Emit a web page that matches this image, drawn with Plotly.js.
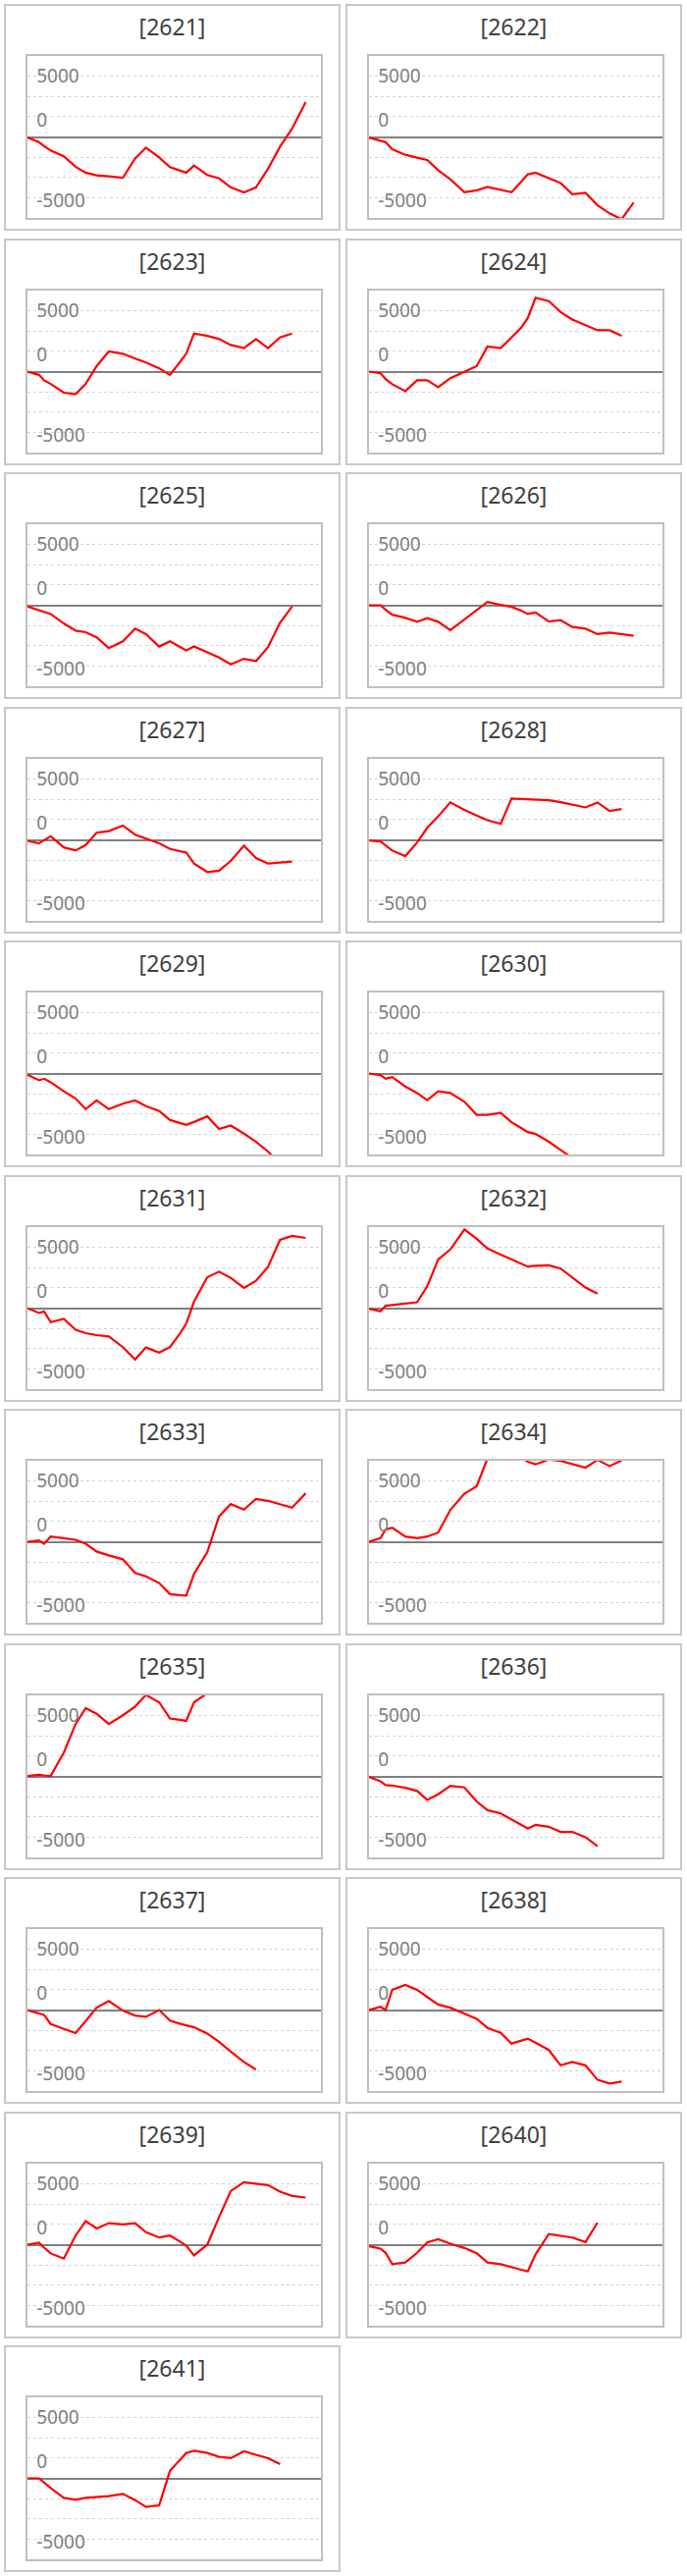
<!DOCTYPE html>
<html>
<head>
<meta charset="utf-8">
<script src="https://cdn.plot.ly/plotly-3.0.1.min.js"></script>
<style>
    body { margin: 0; background: #fff; }
    .panel {
        position: absolute;
        width: 343px;
        height: 231px;
        box-sizing: border-box;
        border: 2px solid #c8c8c8;
        background: #fff;
    }
</style>
</head>
<body>
<div id="charts"></div>
<script>
// Position of each data point along the x axis (shared by all panels)
const xDays = [0, 0.95, 1.38, 1.93, 3.02, 4.0, 4.84, 5.75, 6.76, 7.93, 8.95, 9.85, 10.95,
               11.85, 12.65, 13.2, 13.85, 14.95, 15.93, 16.9, 18.0, 19.0, 20.0, 21.0, 22.0, 23.13];

const codes = ['2621', '2622', '2623', '2624', '2625', '2626', '2627', '2628', '2629', '2630', '2631',
               '2632', '2633', '2634', '2635', '2636', '2637', '2638', '2639', '2640', '2641'];

const v2621 = [-50, -430, -750, -1120, -1600, -2460, -2940, -3160, -3240, -3370, -1770, -880, -1690,
               -2490, -2760, -2940, -2350, -3130, -3420, -4150, -4570, -4150, -2620, -800, 670, 2860];
const v2622 = [-50, -270, -430, -1020, -1470, -1710, -1900, -2730, -3480, -4550, -4390, -4120, -4330,
               -4550, -3690, -3080, -2940, -3370, -3800, -4710, -4600, -5620, -6290, -6770, -5400];
const v2623 = [0, -270, -720, -1020, -1740, -1870, -1020, 450, 1660, 1470, 1070, 750, 270,
               -270, 750, 1470, 3130, 2940, 2680, 2190, 1930, 2680, 1930, 2810, 3130];
const v2624 = [0, -130, -620, -1040, -1610, -720, -720, -1280, -540, 0, 450, 2060, 1930,
               2810, 3610, 4410, 6070, 5800, 4900, 4280, 3830, 3400, 3400, 2940];
const v2625 = [-110, -430, -560, -720, -1500, -2090, -2220, -2650, -3530, -2970, -1930, -2380, -3400,
               -2970, -3420, -3720, -3400, -3850, -4310, -4870, -4410, -4600, -3450, -1440, -110];
const v2626 = [0, 0, -370, -780, -1040, -1360, -1070, -1360, -2060, -1180, -450, 270, 30,
               -130, -450, -720, -590, -1340, -1230, -1790, -1930, -2380, -2250, -2380, -2510];
const v2627 = [-80, -290, -30, 290, -620, -880, -430, 590, 720, 1180, 430, 110, -290,
               -750, -910, -1040, -1950, -2650, -2540, -1740, -480, -1500, -1950, -1900, -1790];
const v2628 = [-50, -130, -450, -880, -1340, -210, 990, 1930, 3080, 2460, 2010, 1610, 1320,
               3400, 3370, 3340, 3320, 3260, 3100, 2890, 2670, 3080, 2380, 2540];
const v2629 = [-110, -560, -430, -720, -1470, -2060, -2940, -2220, -2940, -2490, -2220, -2680, -3080,
               -3830, -4070, -4230, -3990, -3530, -4570, -4280, -4950, -5620, -6420, -7490];
const v2630 = [0, -130, -430, -290, -1070, -1610, -2190, -1470, -1610, -2330, -3400, -3400, -3240,
               -4010, -4490, -4820, -4980, -5620, -6290, -6960];
const v2631 = [0, -400, -270, -1150, -880, -1790, -2060, -2220, -2330, -3210, -4230, -3240, -3660,
               -3210, -2140, -1280, 540, 2540, 3000, 2490, 1660, 2250, 3400, 5620, 5940, 5780];
const v2632 = [-50, -270, 190, 240, 350, 480, 1790, 4010, 4820, 6470, 5700, 4900, 4410,
               4010, 3660, 3420, 3480, 3530, 3260, 2540, 1690, 1200];
const v2633 = [0, 110, -160, 430, 290, 160, -160, -800, -1120, -1440, -2570, -2840, -3400,
               -4310, -4390, -4440, -2650, -860, 2090, 3100, 2650, 3530, 3370, 3080, 2810, 3990];
const v2634 = [0, 290, 1020, 1150, 430, 290, 430, 750, 2620, 3960, 4570, 6850, 7120,
               7380, 6980, 6580, 6370, 6770, 6660, 6420, 6100, 6740, 6230, 6690];
const v2635 = [30, 130, 80, 30, 1950, 4310, 5620, 5160, 4310, 5030, 5750, 6710, 6100,
               4760, 4650, 4570, 6100, 6850, 7040];
const v2636 = [-50, -400, -720, -750, -940, -1200, -1930, -1470, -780, -910, -2060, -2780, -3050,
               -3560, -3990, -4280, -3990, -4150, -4570, -4570, -5000, -5750];
const v2637 = [0, -270, -400, -1150, -1520, -1900, -910, 190, 750, -50, -450, -560, 0,
               -880, -1120, -1280, -1420, -1930, -2620, -3420, -4280, -4900];
const v2638 = [0, 270, 0, 1660, 2060, 1660, 1070, 450, 190, -270, -720, -1470, -1870,
               -2760, -2510, -2350, -2680, -3290, -4550, -4280, -4550, -5750, -6050, -5890];
const v2639 = [0, 160, -240, -720, -1150, 750, 1930, 1340, 1770, 1660, 1770, 1020, 590,
               750, 270, -80, -880, 0, 2270, 4410, 5140, 5000, 4900, 4360, 4010, 3880];
const v2640 = [-130, -320, -670, -1610, -1470, -670, 190, 450, 80, -270, -700, -1470, -1610,
               -1870, -2060, -2190, -800, 880, 750, 590, 210, 1820];
const v2641 = [0, 0, -350, -800, -1610, -1770, -1610, -1550, -1470, -1280, -1790, -2350, -2220,
               620, 1500, 2090, 2270, 2090, 1770, 1660, 2220, 1950, 1660, 1180];

const seriesList = [v2621, v2622, v2623, v2624, v2625, v2626, v2627, v2628, v2629, v2630, v2631,
                    v2632, v2633, v2634, v2635, v2636, v2637, v2638, v2639, v2640, v2641];

// Axis labels as they sit in the picture
const labelVals = [4990, 1420, -5240];
const labelText = ['5000', '0', '-5000'];

const FONT = 'Noto Sans, sans-serif';
const GRID_STEP = 5000 / 3;
const Y_MAX = 4 * GRID_STEP;

// Dotted gridlines every step, zero is drawn by the zero line
let gridVals = [];
for (let k = -3; k <= 3; k++) {
    if (k != 0) gridVals.push(k * GRID_STEP);
}

/**
 * Create one small chart panel
 */
function createPanel(code, values, index) {
    let col = index % 2;
    let row = Math.floor(index / 2);

    let div = document.createElement('div');
    div.className = 'panel';
    div.style.left = (4 + col * 348) + 'px';
    div.style.top = (4 + row * 238.5) + 'px';
    document.getElementById('charts').appendChild(div);

    let line = {
        x: xDays.slice(0, values.length),
        y: values,
        type: 'scatter',
        mode: 'lines',
        line: {
            color: '#ff0000',
            width: 2.2
        },
        hoverinfo: 'skip'
    }

    let layout = {
        width: 339,
        height: 227,
        showlegend: false,
        paper_bgcolor: '#fff',
        plot_bgcolor: '#fff',
        title: {
            text: '[' + code + ']',
            font: {family: FONT, size: 23, color: '#404040'},
            x: 0.5,
            xanchor: 'center',
            y: 1 - 22 / 227,
            yanchor: 'middle',
            yref: 'container'
        },
        xaxis: {
            range: [0, 24.4],
            showgrid: false,
            zeroline: false,
            showticklabels: false,
            ticks: '',
            showline: true,
            mirror: true,
            linecolor: '#bfbfbf',
            linewidth: 2
        },
        yaxis: {
            range: [-Y_MAX, Y_MAX],
            tickmode: 'array',
            tickvals: labelVals,
            ticktext: labelText,
            ticklabelposition: 'inside',
            ticklabelstandoff: 10,
            tickfont: {family: FONT, size: 19, color: '#808080'},
            ticks: '',
            showgrid: false,
            minor: {
                tickmode: 'array',
                tickvals: gridVals,
                showgrid: true,
                gridcolor: '#d4d4d4',
                griddash: 'dot',
                gridwidth: 1
            },
            zeroline: true,
            zerolinecolor: '#808080',
            zerolinewidth: 2,
            showline: true,
            mirror: true,
            linecolor: '#bfbfbf',
            linewidth: 2
        },
        margin: {
            l: 22,
            r: 18,
            t: 51,
            b: 11
        }
    }

    let config = {
        displayModeBar: false,
        staticPlot: true
    }

    Plotly.newPlot(div, [line], layout, config);
}

for (let i in codes) {
    createPanel(codes[i], seriesList[i], Number(i));
}
</script>
</body>
</html>
